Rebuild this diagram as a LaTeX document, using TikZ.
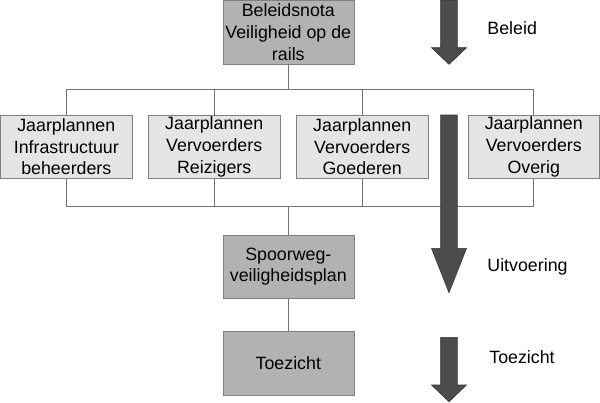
\documentclass[tikz,border=0pt]{standalone}
\usepackage{fontspec}
\setmainfont{Liberation Sans}
\usepackage{tikz}
\usetikzlibrary{calc, positioning}

\begin{document}
\begin{tikzpicture}[x=1pt, y=-1pt,
        every node/.style={font=\fontsize{17.8}{21.7}\selectfont, inner sep=0pt, align=center},
        darkbox/.style={draw=black!50, fill=black!30, minimum width=131pt, minimum height=63.5pt},
        lightbox/.style={draw=black!50, fill=black!10, minimum width=131.5pt, minimum height=63.3pt},
        bus/.style={draw=black!55, line width=0.8pt},
        flowarrow/.style={fill=black!70, draw=black!80, line width=0.6pt}]
        \useasboundingbox (0,0) rectangle (600,402);
        % boxes
        \node[darkbox] (beleidsnota) at (288.3,32.2) {Beleidsnota\\Veiligheid op de\\rails};
        \node[lightbox] (jpInfra) at (66.3,146.7) {Jaarplannen\\Infrastructuur\\beheerders};
        \node[lightbox] (jpReizigers) at (214.2,146.7) {Jaarplannen\\Vervoerders\\Reizigers};
        \node[lightbox] (jpGoederen) at (362.2,146.7) {Jaarplannen\\Vervoerders\\Goederen};
        \node[lightbox] (jpOverig) at (533.8,146.7) {Jaarplannen\\Vervoerders\\Overig};
        \node[darkbox] (spoorplan) at (288.3,266.7) {Spoorweg-\\veiligheidsplan};
        \node[darkbox] (toezicht) at (288.3,363.3) {Toezicht};
        \coordinate (topbus) at (288.3,89.3);
        \coordinate (lowbus) at (288.3,206.5);
        % connectors
        \draw[bus] (beleidsnota.south) -- (beleidsnota.south |- topbus);
        \draw[bus] (jpInfra.north |- topbus) -- (jpOverig.north |- topbus);
        \draw[bus] (jpInfra.south |- lowbus) -- (jpOverig.south |- lowbus);
        \foreach \jp in {jpInfra, jpReizigers, jpGoederen, jpOverig} {
            \draw[bus] (\jp.north) -- (\jp.north |- topbus);
            \draw[bus] (\jp.south) -- (\jp.south |- lowbus);
        }
        \draw[bus] (spoorplan.north |- lowbus) -- (spoorplan.north);
        \draw[bus] (spoorplan.south) -- (toezicht.north);
        % phase arrows
        \foreach \top/\neck/\tip in {0/47.7/64.3, 115/248.3/292.7, 337.3/385/401.7} {
            \draw[flowarrow] (440.7,\top) -- (457.3,\top) -- (457.3,\neck) -- (466.5,\neck)
                -- (449,\tip) -- (431.5,\neck) -- (440.7,\neck) -- cycle;
        }
        \node (lblBeleid) at (512.2,28) {Beleid};
        \node (lblUitvoering) at (527.5,267) {Uitvoering};
        \node (lblToezicht) at (522,357.3) {Toezicht};
    \end{tikzpicture}
\end{document}
